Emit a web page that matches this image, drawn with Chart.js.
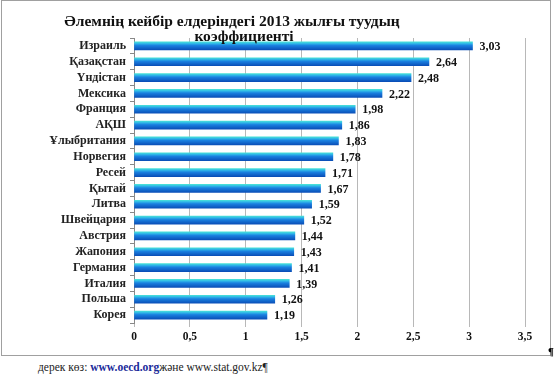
<!DOCTYPE html>
<html>
<head>
<meta charset="utf-8">
<script src="https://cdn.jsdelivr.net/npm/chart.js@4/dist/chart.umd.min.js"></script>
<style>
    body { margin: 0; background: #fff; width: 556px; height: 381px; position: relative; overflow: hidden; }
    #box { position: absolute; left: 1px; top: 0; width: 548px; height: 354px; border: 1px solid #a0a0a0; }
    #source { position: absolute; left: 38px; top: 361px; font: 11.5px 'Liberation Serif', serif; color: #222; white-space: nowrap; }
    #source b { color: #1a2a9a; }
    #pil { position: absolute; left: 548px; top: 345px; font: bold 11px 'Liberation Serif', serif; color: #000; }
</style>
</head>
<body>
<div id="box"><canvas id="chart" width="548" height="354"></canvas></div>
<div id="pil">¶</div>
<div id="source">дерек көз: <b>www.oecd.org</b>және www.stat.gov.kz¶</div>
<script>
    // --- Data ---
    const countries = ['Израиль', 'Қазақстан', 'Үндістан', 'Мексика', 'Франция', 'АҚШ', 'Ұлыбритания',
        'Норвегия', 'Ресей', 'Қытай', 'Литва', 'Швейцария', 'Австрия', 'Жапония', 'Германия',
        'Италия', 'Польша', 'Корея'];
    const birthRates = [3.03, 2.64, 2.48, 2.22, 1.98, 1.86, 1.83, 1.78, 1.71, 1.67, 1.59, 1.52,
        1.44, 1.43, 1.41, 1.39, 1.26, 1.19];
    const titleLines = ['Әлемнің кейбір елдеріндегі 2013 жылғы туудың', 'коэффициенті'];

    const serif = "'Liberation Serif', 'Times New Roman', serif";

    function fmt(v) {
        return String(v).replace('.', ',');
    }

    // vertical gradient for each bar (cyan top -> dark blue bottom)
    function barFill(context) {
        const chart = context.chart;
        const y = chart.scales.y;
        if (!y || !chart.chartArea) return '#1a70d8';
        const mid = y.getPixelForValue(context.dataIndex);
        const g = chart.ctx.createLinearGradient(0, mid - 4, 0, mid + 4);
        g.addColorStop(0, '#48e0d8');
        g.addColorStop(0.2, '#30b8e8');
        g.addColorStop(0.45, '#1a80e0');
        g.addColorStop(1, '#0a4fb8');
        return g;
    }

    // title drawn by hand so it sits left of centre like the original
    const titlePlugin = {
        id: 'titleText',
        afterDraw(chart) {
            const c = chart.ctx;
            c.save();
            c.font = 'bold 15.5px ' + serif;
            c.fillStyle = '#111';
            c.textAlign = 'center';
            c.textBaseline = 'middle';
            c.fillText(titleLines[0], 230, 21);
            c.fillText(titleLines[1], 242, 36);
            c.restore();
        }
    };

    // value labels at the end of each bar
    const valueLabels = {
        id: 'valueLabels',
        afterDatasetsDraw(chart) {
            const c = chart.ctx;
            const meta = chart.getDatasetMeta(0);
            c.save();
            c.font = 'bold 12px ' + serif;
            c.fillStyle = '#111';
            c.textBaseline = 'middle';
            meta.data.forEach((bar, i) => {
                c.fillText(fmt(birthRates[i]), bar.x + 7, bar.y + 1);
            });
            c.restore();
        }
    };

    new Chart(document.getElementById('chart'), {
        type: 'bar',
        data: {
            labels: countries,
            datasets: [{
                data: birthRates,
                backgroundColor: barFill,
                borderWidth: 0,
                barThickness: 8
            }]
        },
        options: {
            indexAxis: 'y',
            responsive: false,
            animation: false,
            layout: { padding: { top: 37, right: 25, left: 0, bottom: 0 } },
            plugins: {
                legend: { display: false },
                title: { display: false },
                tooltip: { enabled: false }
            },
            scales: {
                x: {
                    min: 0,
                    max: 3.5,
                    ticks: {
                        stepSize: 0.5,
                        padding: 3,
                        color: '#111',
                        font: { family: serif, size: 11.5, weight: 'bold' },
                        callback: v => fmt(v)
                    },
                    grid: { color: '#b8b8b8', tickLength: 4 },
                    border: { display: false },
                    afterFit(scale) { scale.height = 32; }
                },
                y: {
                    ticks: {
                        autoSkip: false,
                        padding: 4,
                        color: '#222',
                        font: { family: serif, size: 12, weight: 'bold' }
                    },
                    grid: { drawOnChartArea: false, tickLength: 4, color: '#888', offset: true },
                    border: { display: true, color: '#888' },
                    afterFit(scale) { scale.width = 132; }
                }
            }
        },
        plugins: [titlePlugin, valueLabels]
    });
</script>
</body>
</html>
